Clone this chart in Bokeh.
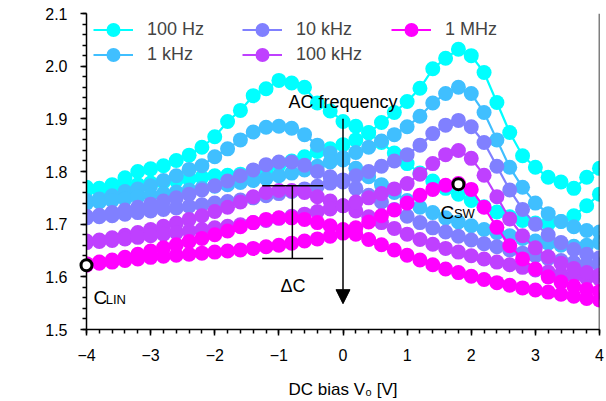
from bokeh.plotting import figure
from bokeh.models import Range1d, Legend, LegendItem, Label, Arrow, NormalHead, Span, FixedTicker, NumeralTickFormatter
from bokeh.embed import file_html
from bokeh.resources import INLINE

FONT = "Liberation Sans"

bias = [-4.0, -3.8, -3.6, -3.4, -3.2, -3.0, -2.8, -2.6, -2.4, -2.2, -2.0, -1.8, -1.6, -1.4, -1.2,
        -1.0, -0.8, -0.6, -0.4, -0.2, 0.0, 0.2, 0.4, 0.6, 0.8, 1.0, 1.2, 1.4, 1.6, 1.8, 2.0,
        2.2, 2.4, 2.6, 2.8, 3.0, 3.2, 3.4, 3.6, 3.8, 4.0]

# branch "down" (peak near -1 V) and branch "up" (peak near +1.8 V)
c_100Hz_down = [1.770, 1.768, 1.775, 1.788, 1.800, 1.805, 1.811, 1.821, 1.831, 1.846, 1.866, 1.895, 1.916, 1.944,
                1.957, 1.973, 1.968, 1.960, 1.930, 1.915, 1.895, 1.886, 1.874, 1.855, 1.835, 1.815, 1.797, 1.782,
                1.768, 1.757, 1.745, 1.733, 1.723, 1.714, 1.707, 1.702, 1.701, 1.705, 1.716, 1.735, 1.757]
c_100Hz_up = [1.765, 1.765, 1.768, 1.772, 1.775, 1.778, 1.780, 1.783, 1.786, 1.789, 1.792, 1.793, 1.795, 1.797,
              1.803, 1.812, 1.820, 1.828, 1.838, 1.843, 1.851, 1.860, 1.873, 1.893, 1.912, 1.933, 1.958, 1.995,
              2.015, 2.032, 2.020, 1.988, 1.931, 1.874, 1.830, 1.808, 1.789, 1.780, 1.768, 1.789, 1.806]
c_1kHz_down = [1.745, 1.748, 1.754, 1.762, 1.767, 1.773, 1.783, 1.792, 1.804, 1.811, 1.828, 1.843, 1.860, 1.875,
               1.884, 1.886, 1.882, 1.870, 1.850, 1.835, 1.822, 1.806, 1.790, 1.775, 1.760, 1.745, 1.732, 1.722,
               1.712, 1.704, 1.697, 1.690, 1.684, 1.678, 1.673, 1.668, 1.664, 1.660, 1.658, 1.660, 1.665]
c_1kHz_up = [1.740, 1.742, 1.745, 1.748, 1.752, 1.755, 1.758, 1.761, 1.765, 1.768, 1.772, 1.775, 1.779, 1.783,
             1.787, 1.792, 1.797, 1.803, 1.810, 1.818, 1.826, 1.836, 1.846, 1.858, 1.870, 1.885, 1.905, 1.930,
             1.948, 1.960, 1.948, 1.912, 1.860, 1.808, 1.770, 1.740, 1.720, 1.705, 1.695, 1.688, 1.685]
c_10kHz_down = [1.715, 1.717, 1.722, 1.727, 1.732, 1.738, 1.744, 1.750, 1.757, 1.765, 1.773, 1.782, 1.792, 1.803,
                1.813, 1.818, 1.818, 1.812, 1.800, 1.790, 1.780, 1.768, 1.755, 1.742, 1.728, 1.715, 1.703, 1.693,
                1.685, 1.677, 1.670, 1.663, 1.657, 1.651, 1.645, 1.640, 1.635, 1.631, 1.627, 1.624, 1.622]
c_10kHz_up = [1.712, 1.714, 1.716, 1.719, 1.722, 1.725, 1.728, 1.731, 1.734, 1.737, 1.740, 1.743, 1.746, 1.750,
              1.754, 1.758, 1.762, 1.767, 1.772, 1.778, 1.784, 1.792, 1.800, 1.810, 1.820, 1.832, 1.850, 1.872,
              1.888, 1.897, 1.885, 1.855, 1.810, 1.765, 1.728, 1.700, 1.680, 1.665, 1.652, 1.643, 1.636]
c_100kHz_down = [1.668, 1.670, 1.674, 1.679, 1.684, 1.690, 1.696, 1.702, 1.709, 1.716, 1.724, 1.732, 1.742, 1.752,
                 1.760, 1.764, 1.764, 1.760, 1.752, 1.744, 1.735, 1.725, 1.714, 1.703, 1.692, 1.681, 1.671, 1.662,
                 1.654, 1.647, 1.640, 1.634, 1.628, 1.623, 1.618, 1.613, 1.609, 1.605, 1.601, 1.598, 1.596]
c_100kHz_up = [1.665, 1.667, 1.669, 1.672, 1.675, 1.678, 1.681, 1.684, 1.687, 1.690, 1.693, 1.696, 1.699, 1.703,
               1.707, 1.711, 1.715, 1.719, 1.724, 1.729, 1.735, 1.742, 1.750, 1.758, 1.767, 1.777, 1.795, 1.815,
               1.832, 1.840, 1.825, 1.793, 1.752, 1.710, 1.678, 1.655, 1.638, 1.626, 1.616, 1.608, 1.603]
c_1MHz_down = [1.625, 1.628, 1.632, 1.637, 1.643, 1.649, 1.655, 1.661, 1.667, 1.673, 1.680, 1.687, 1.695, 1.703,
               1.709, 1.712, 1.712, 1.709, 1.703, 1.697, 1.690, 1.681, 1.671, 1.661, 1.651, 1.641, 1.632, 1.623,
               1.615, 1.608, 1.601, 1.595, 1.589, 1.584, 1.579, 1.575, 1.571, 1.567, 1.563, 1.559, 1.556]
c_1MHz_up = [1.622, 1.626, 1.628, 1.631, 1.634, 1.637, 1.639, 1.641, 1.643, 1.645, 1.647, 1.649, 1.651, 1.654,
             1.657, 1.660, 1.664, 1.668, 1.672, 1.677, 1.683, 1.693, 1.704, 1.716, 1.727, 1.740, 1.755, 1.766,
             1.774, 1.777, 1.766, 1.732, 1.694, 1.659, 1.634, 1.615, 1.600, 1.590, 1.582, 1.576, 1.572]

freq_labels = ["100 Hz", "1 kHz", "10 kHz", "100 kHz", "1 MHz"]
colors = ["#00FFFF", "#40BFFF", "#8080FF", "#BF40FF", "#FF00FF"]
down_branches = [c_100Hz_down, c_1kHz_down, c_10kHz_down, c_100kHz_down, c_1MHz_down]
up_branches = [c_100Hz_up, c_1kHz_up, c_10kHz_up, c_100kHz_up, c_1MHz_up]

x_ticks = [-4, -3, -2, -1, 0, 1, 2, 3, 4]
x_tick_labels = ["\u22124", "\u22123", "\u22122", "\u22121", "0", "1", "2", "3", "4"]
y_ticks = [1.5, 1.6, 1.7, 1.8, 1.9, 2.0, 2.1]

# annotation points
clin_v, clin_c = [-4.0], [1.622]
csw_v, csw_c = [1.8], [1.776]
arrow_v, arrow_c_start, arrow_c_end = 0.0, 1.900, 1.549
dc_v, dc_top, dc_bottom, dc_left, dc_right = -0.79, 1.773, 1.635, -1.26, -0.31

FRAME_H = 316
p = figure(width=606, height=401, x_range=Range1d(-4, 4), y_range=Range1d(1.5, 2.1),
           output_backend="svg", toolbar_location=None,
           min_border_left=86, min_border_right=7, min_border_top=13, min_border_bottom=72)
p.xgrid.visible = False
p.ygrid.visible = False
p.outline_line_color = None
p.background_fill_color = "white"
p.border_fill_color = "white"

MS = 15
items = []
for lab, col, cd, cu in zip(freq_labels, colors, down_branches, up_branches):
    l1 = p.line(bias, cd, line_color=col, line_width=2.2)
    s1 = p.scatter(bias, cd, size=MS, fill_color=col, line_color=None)
    l2 = p.line(bias, cu, line_color=col, line_width=2.2)
    s2 = p.scatter(bias, cu, size=MS, fill_color=col, line_color=None)
    items.append(LegendItem(label=lab, renderers=[l1, s1]))

# C_LIN and C_SW markers
p.scatter(clin_v, clin_c, size=11, fill_color="white", line_color="black", line_width=3, level="overlay")
p.scatter(csw_v, csw_c, size=11, fill_color="white", line_color="black", line_width=3, level="overlay")

# Delta C bracket
p.segment(x0=[dc_v, dc_left, dc_left], y0=[dc_top, dc_top, dc_bottom],
          x1=[dc_v, dc_right, dc_right], y1=[dc_bottom, dc_top, dc_bottom],
          line_color="black", line_width=1.5)

p.add_layout(Arrow(end=NormalHead(size=14, fill_color="black", line_color="black"),
                   x_start=arrow_v, y_start=arrow_c_start, x_end=arrow_v, y_end=arrow_c_end,
                   line_color="black", line_width=1.5))

def lbl(x, y, text, size, align="left", baseline="alphabetic", angle=0.0):
    p.add_layout(Label(x=x, y=y, text=text, text_font=FONT, text_font_size=size,
                       text_align=align, text_baseline=baseline, angle=angle, text_color="black"))

lbl(0.0, 1.9326, "AC frequency", "18px", align="center")
lbl(-0.78, 1.582, "\u0394C", "18px", align="center")
lbl(-3.89, 1.560, "C", "19px")
lbl(-3.70, 1.557, "LIN", "13px")
lbl(1.52, 1.723, "C", "19px")
lbl(1.73, 1.720, "SW", "13px")

# y-axis title as rotated label
lbl(-5.076, 1.8455, "Capacitance [\u00b5F cm\u207b\u00b2]", "17px", align="center", baseline="middle", angle=1.5707963)

p.add_layout(Span(location=4, dimension="height", line_color="black", line_width=1.5))

xa = p.xaxis[0]
xa.ticker = FixedTicker(ticks=x_ticks, minor_ticks=[round(-4 + 0.2 * i, 1) for i in range(41)])
xa.major_label_overrides = dict(zip(x_ticks, x_tick_labels))
xa.axis_label = "DC bias V\u2080 [V]"
xa.axis_label_standoff = 16
ya = p.yaxis[0]
ya.ticker = FixedTicker(ticks=y_ticks, minor_ticks=[round(1.5 + 0.02 * i, 2) for i in range(31)])
ya.formatter = NumeralTickFormatter(format="0.0")
for ax in (xa, ya):
    ax.axis_line_width = 1.5
    ax.axis_line_color = "black"
    ax.major_tick_in = 0
    ax.major_tick_out = 6
    ax.minor_tick_in = 0
    ax.minor_tick_out = 4
    ax.major_tick_line_width = 1.5
    ax.minor_tick_line_width = 1.5
    ax.major_tick_line_color = "black"
    ax.minor_tick_line_color = "black"
    ax.major_label_text_font = FONT
    ax.major_label_text_font_size = "16px"
    ax.major_label_text_color = "black"
    ax.major_label_standoff = 13
    ax.axis_label_text_font = FONT
    ax.axis_label_text_font_size = "17px"
    ax.axis_label_text_font_style = "normal"
    ax.axis_label_text_color = "black"

# legend: two single-row legends (row 1: 100 Hz, 10 kHz, 1 MHz; row 2: 1 kHz, 100 kHz)
ITEM_H = 35
row_items = [[items[0], items[2], items[4]], [items[1], items[3]]]
row_centers = [16.7, 41.7]   # px below top of frame
for its, rc in zip(row_items, row_centers):
    lg = Legend(items=its, location=(7, FRAME_H - rc - ITEM_H / 2), orientation="horizontal",
                background_fill_alpha=0, border_line_color=None,
                label_text_font=FONT, label_text_font_size="18px",
                glyph_width=40, glyph_height=ITEM_H, label_standoff=14, label_width=89, label_height=ITEM_H,
                spacing=6, padding=0, margin=0)
    p.add_layout(lg)

open("out.html", "w").write(file_html(p, INLINE))
